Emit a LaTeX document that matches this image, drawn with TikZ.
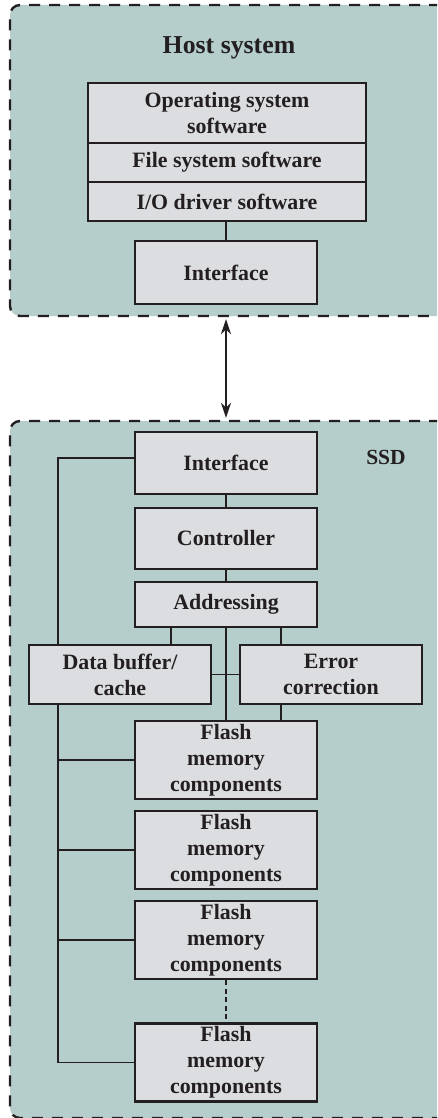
\documentclass[tikz,border=0pt]{standalone}
\usepackage{fontspec}
\setmainfont{Liberation Serif}
\usetikzlibrary{arrows.meta,calc}
\definecolor{bgteal}{RGB}{181,205,203}
\definecolor{boxgray}{RGB}{220,221,224}
\definecolor{ink}{RGB}{35,31,32}
\begin{document}
\begin{tikzpicture}[x=1pt,y=-1pt,
  container/.style={draw=ink, fill=bgteal, line width=2.4pt, dash pattern=on 11pt off 9pt, rounded corners=10pt, inner sep=0pt},
  blk/.style={draw=ink, fill=boxgray, line width=2.7pt, inner sep=0pt, align=center, text=ink,
     font=\bfseries\fontsize{21.9}{26}\selectfont},
  conn/.style={draw=ink, line width=1.3pt},
  title/.style={text=ink, inner sep=0pt, font=\bfseries\fontsize{25.8}{30}\selectfont}]
\useasboundingbox (0,0) rectangle (437,1118);
\clip (0,0) rectangle (437,1118);
\fill[white] (0,0) rectangle (437,1118);
% containers
\node[container, minimum width=440pt, minimum height=311pt] (host) at (230,160.5) {};
\node[container, minimum width=440pt, minimum height=697pt] (ssd) at (230,769.5) {};
% host
\node[title] (htitle) at (229,48) {Host system};
\node[blk, minimum width=278pt, minimum height=60pt] (os) at (227,113) {Operating system\\software};
\node[blk, minimum width=278pt, minimum height=39pt] (fs) at (227,162.5) {File system software};
\node[blk, minimum width=278pt, minimum height=39pt] (io) at (227,201.5) {I/O driver software};
\node[blk, minimum width=182pt, minimum height=63pt] (hif) at (226,272.5) {Interface};
\draw[conn] (io.south -| hif.north) -- (hif.north);
% arrow
\draw[ink, line width=2.2pt, {Stealth[length=15pt,width=10pt]}-{Stealth[length=15pt,width=10pt]}, shorten <=2pt, shorten >=2pt]
  (hif.south |- host.south) -- (hif.south |- ssd.north);
% ssd
\node[text=ink, inner sep=0pt, font=\bfseries\fontsize{21.5}{26}\selectfont] (ssdlabel) at (386,457) {SSD};
\node[blk, minimum width=182pt, minimum height=62pt] (sif) at (226,463) {Interface};
\node[blk, minimum width=182pt, minimum height=61pt] (ctl) at (226,538.5) {Controller};
\node[blk, minimum width=182pt, minimum height=45pt] (addr) at (226,604.5) {Addressing};
\node[blk, minimum width=182pt, minimum height=59pt] (buf) at (120,674.5) {Data buffer/\\cache};
\node[blk, minimum width=182pt, minimum height=59pt] (err) at (331,674.5) {Error\\correction};
\node[blk, minimum width=182pt, minimum height=78pt] (fl1) at (226,760) {Flash\\memory\\components};
\node[blk, minimum width=182pt, minimum height=78pt] (fl2) at (226,850) {Flash\\memory\\components};
\node[blk, minimum width=182pt, minimum height=78pt] (fl3) at (226,940) {Flash\\memory\\components};
\node[blk, minimum width=182pt, minimum height=78pt] (fl4) at (226,1062.5) {Flash\\memory\\components};
\coordinate (bus) at (58,458);
\coordinate (xl) at (171,0);
\coordinate (xr) at (281,0);
% connectors
\draw[conn] (sif.south) -- (ctl.north);
\draw[conn] (ctl.south) -- (addr.north);
\draw[conn] (addr.south) -- (fl1.north);
\draw[conn] (addr.south -| xl) -- (buf.north -| xl);
\draw[conn] (addr.south -| xr) -- (err.north -| xr);
\draw[conn] (buf.east) -- (err.west);
\draw[conn] (err.south -| xr) -- (fl1.north -| xr);
\draw[conn] (sif.west |- bus) -- (bus) -- (bus |- buf.north);
\draw[conn] (bus |- buf.south) -- (bus |- fl4.west) -- (fl4.west);
\draw[conn] (bus |- fl1.west) -- (fl1.west);
\draw[conn] (bus |- fl2.west) -- (fl2.west);
\draw[conn] (bus |- fl3.west) -- (fl3.west);
\draw[conn, dash pattern=on 5pt off 3.5pt] (fl3.south) -- (fl4.north);
\end{tikzpicture}
\end{document}
